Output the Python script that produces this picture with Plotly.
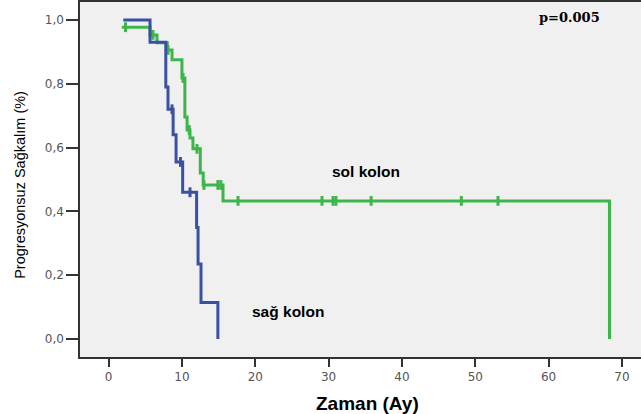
import plotly.graph_objects as go

# Blue group (sağ kolon): event times (months) and survival after each step
sag_times = [2.0, 5.65, 7.8, 8.1, 8.8, 9.2, 10.1, 12.0, 12.2, 12.6, 14.9]
sag_surv = [1.0, 0.93, 0.79, 0.72, 0.64, 0.555, 0.46, 0.35, 0.235, 0.115, 0.0]
sag_cens_t = [8.65, 9.8, 11.1]
sag_cens_s = [0.72, 0.555, 0.46]

# Green group (sol kolon)
sol_times = [1.8, 5.65, 6.6, 8.0, 8.65, 10.0, 10.4, 10.7, 11.1, 11.5, 12.5, 12.9, 15.6, 68.3]
sol_surv = [0.977, 0.953, 0.928, 0.906, 0.875, 0.818, 0.696, 0.655, 0.63, 0.596, 0.52, 0.483, 0.433, 0.0]
sol_cens_t = [2.3, 6.05, 8.1, 10.15, 11.0, 12.05, 13.0, 14.9, 15.3, 17.65, 29.1, 30.6, 31.0, 35.8, 48.1, 53.1]
sol_cens_s = [0.977, 0.953, 0.906, 0.818, 0.655, 0.596, 0.483, 0.483, 0.483, 0.433, 0.433, 0.433,
              0.433, 0.433, 0.433, 0.433]

x_ticks = [0, 10, 20, 30, 40, 50, 60, 70]
y_ticks = [0.0, 0.2, 0.4, 0.6, 0.8, 1.0]
y_ticktext = ["0,0", "0,2", "0,4", "0,6", "0,8", "1,0"]

BLUE = "#3a51a3"
GREEN = "#3db54a"

fig = go.Figure()
fig.add_trace(go.Scatter(x=sol_times, y=sol_surv, mode="lines", line=dict(color=GREEN, width=3, shape="hv"),
                         showlegend=False, hoverinfo="skip"))
fig.add_trace(go.Scatter(x=sol_cens_t, y=sol_cens_s, mode="markers",
                         marker=dict(symbol="line-ns-open", size=7, color=GREEN, line=dict(color=GREEN, width=3)),
                         showlegend=False, hoverinfo="skip"))
fig.add_trace(go.Scatter(x=sag_times, y=sag_surv, mode="lines", line=dict(color=BLUE, width=3, shape="hv"),
                         showlegend=False, hoverinfo="skip"))
fig.add_trace(go.Scatter(x=sag_cens_t, y=sag_cens_s, mode="markers",
                         marker=dict(symbol="line-ns-open", size=7, color=BLUE, line=dict(color=BLUE, width=3)),
                         showlegend=False, hoverinfo="skip"))

tick_font = dict(size=12, color="#555555", family="DejaVu Sans, Arial, sans-serif")

fig.update_layout(
    width=641, height=414,
    margin=dict(l=80, r=0, t=2, b=57),
    paper_bgcolor="white", plot_bgcolor="#f0f0f0",
    font=dict(family="Liberation Sans, Arial, sans-serif"),
    xaxis=dict(range=[-3.9, 72.6], tickvals=x_ticks, ticks="outside", ticklen=8, tickwidth=2,
               tickcolor="#333333", showgrid=False, zeroline=False, showline=True, linecolor="#333333",
               linewidth=1.5, mirror=True, tickfont=tick_font),
    yaxis=dict(range=[-0.056, 1.056], tickvals=y_ticks, ticktext=y_ticktext, ticks="outside", ticklen=12,
               tickwidth=1.5, tickcolor="#333333", showgrid=False, zeroline=False, showline=True,
               linecolor="#333333", linewidth=1.5, mirror=False, tickfont=tick_font),
    annotations=[
        dict(text="Progresyonsuz Sağkalım (%)", textangle=-90, xref="paper", yref="paper",
             x=-60/561, y=0.485, xanchor="center", yanchor="middle", showarrow=False,
             font=dict(size=14.5, color="black")),
        dict(text="<b>Zaman (Ay)</b>", xref="paper", yref="paper", x=0.513, y=0, yshift=-46,
             xanchor="center", yanchor="middle", showarrow=False, font=dict(size=19, color="black")),
        dict(text="<b>sol kolon</b>", xref="paper", yref="paper", x=(366-80)/561, y=(357-171)/355,
             xanchor="center", yanchor="middle", showarrow=False, font=dict(size=15.5, color="black")),
        dict(text="<b>sağ kolon</b>", xref="paper", yref="paper", x=(288-80)/561, y=(357-311)/355,
             xanchor="center", yanchor="middle", showarrow=False, font=dict(size=15.5, color="black")),
        dict(text="<b>p=0.005</b>", xref="paper", yref="paper", x=(569-80)/561, y=(357-17)/355,
             xanchor="center", yanchor="middle", showarrow=False,
             font=dict(size=13, color="black", family="DejaVu Serif, serif")),
    ],
)

fig.write_html("out.html")
